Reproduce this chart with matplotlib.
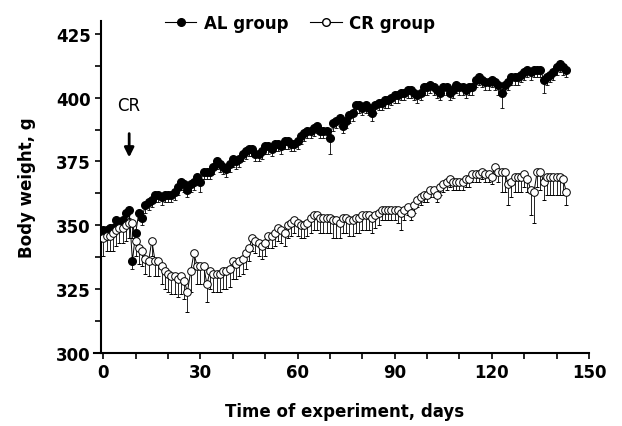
import matplotlib
matplotlib.use("Agg")
import matplotlib.pyplot as plt
from matplotlib.lines import Line2D
import numpy as np

days = list(range(0, 144))

al_weight = [
    348, 348, 349, 349, 352, 351, 352, 355, 356, 336, 347, 355, 353, 358, 359, 360, 362, 362, 361, 362,
    362, 362, 363, 365, 367, 366, 364, 366, 367, 369, 367, 371, 371, 371, 373, 375, 374, 373, 372, 374,
    376, 375, 376, 378, 379, 380, 380, 378, 378, 379, 381, 381, 380, 382, 382, 381, 383, 383, 382, 382,
    383, 385, 386, 387, 387, 388, 389, 387, 387, 387, 384, 390, 391, 392, 389, 391, 393, 394, 397, 397,
    396, 397, 396, 394, 397, 398, 398, 399, 399, 400, 401, 401, 402, 402, 403, 403, 402, 401, 402, 404,
    404, 405, 404, 403, 402, 404, 404, 402, 403, 405, 404, 404, 403, 404, 404, 407, 408, 407, 406, 406,
    407, 406, 405, 402, 405, 406, 408, 408, 408, 409, 410, 411, 410, 411, 411, 411, 407, 408, 409, 410,
    412, 413, 412, 411]

al_err = [
    3, 3, 3, 3, 3, 3, 3, 3, 3, 3, 3, 3, 3, 3, 3, 3, 3, 3, 3, 3,
    3, 3, 3, 3, 3, 3, 3, 3, 3, 3, 4, 3, 3, 3, 3, 3, 3, 3, 3, 3,
    3, 3, 3, 3, 3, 3, 3, 3, 3, 3, 3, 3, 3, 3, 3, 3, 3, 3, 3, 3,
    3, 3, 3, 3, 3, 3, 3, 3, 3, 3, 6, 3, 3, 3, 3, 3, 3, 3, 3, 3,
    3, 3, 3, 3, 3, 3, 3, 3, 3, 3, 3, 3, 3, 3, 3, 3, 3, 3, 3, 3,
    3, 3, 3, 3, 3, 3, 3, 3, 3, 3, 3, 3, 3, 3, 3, 3, 3, 3, 3, 3,
    3, 3, 4, 6, 3, 3, 3, 3, 3, 3, 3, 3, 3, 3, 3, 3, 5, 3, 3, 3,
    3, 3, 3, 3]

cr_weight = [
    345, 346, 346, 347, 348, 349, 349, 350, 351, 351, 344, 341, 340, 337, 336, 344, 336, 336, 334, 332,
    331, 330, 330, 329, 330, 328, 324, 332, 339, 334, 334, 334, 327, 332, 331, 331, 331, 332, 332, 333,
    336, 335, 336, 337, 339, 341, 345, 344, 343, 342, 343, 346, 346, 347, 349, 348, 347, 350, 351, 352,
    351, 350, 350, 351, 353, 354, 354, 353, 353, 353, 353, 352, 352, 351, 353, 353, 352, 352, 353, 353,
    354, 354, 354, 353, 354, 355, 356, 356, 356, 356, 356, 356, 355, 356, 357, 355, 358, 360, 361, 362,
    362, 364, 364, 362, 365, 366, 367, 368, 367, 367, 367, 367, 368, 368, 370, 370, 370, 371, 370, 370,
    369, 373, 371, 371, 371, 366, 367, 369, 369, 369, 370, 368, 364, 363, 371, 371, 367, 369, 369, 369,
    369, 369, 368, 363]

cr_err = [
    7, 6, 6, 7, 6, 6, 6, 6, 6, 6, 6, 6, 6, 6, 6, 6, 6, 6, 7, 7,
    7, 7, 7, 7, 7, 7, 8, 8, 6, 7, 7, 7, 7, 7, 7, 7, 7, 7, 7, 7,
    7, 6, 6, 6, 6, 5, 5, 5, 5, 5, 5, 5, 5, 5, 5, 5, 5, 5, 5, 5,
    5, 5, 5, 5, 6, 6, 6, 6, 6, 6, 6, 7, 7, 6, 6, 6, 6, 6, 6, 6,
    6, 6, 6, 6, 5, 5, 4, 4, 4, 4, 4, 5, 7, 4, 3, 3, 3, 3, 3, 3,
    3, 3, 3, 3, 3, 3, 3, 3, 3, 3, 3, 3, 3, 3, 3, 3, 3, 3, 3, 3,
    3, 3, 4, 8, 8, 8, 6, 6, 6, 6, 5, 5, 10, 12, 6, 7, 7, 7, 7, 7,
    7, 7, 6, 5]

x_ticks = [0, 30, 60, 90, 120, 150]
y_ticks = [300, 325, 350, 375, 400, 425]
series_labels = ["AL group", "CR group"]
x_label = "Time of experiment, days"
y_label = "Body weight, g"
cr_day = 8

plt.rcParams['font.family'] = ['DejaVu Sans']

fig = plt.figure(figsize=(6.22, 4.27), dpi=100)
ax = fig.add_axes([101/622, 1-354/427, (589-101)/622, (354-22)/427])

z = np.zeros(len(days))
ax.errorbar(days, al_weight, yerr=[al_err, z], fmt='-o', color='black',
            markersize=5.5, linewidth=0.7, elinewidth=0.6, capsize=1.5, capthick=0.6,
            markerfacecolor='black', markeredgecolor='black', zorder=3)
ax.errorbar(days, cr_weight, yerr=[cr_err, z], fmt='-o', color='black',
            markersize=5.5, linewidth=0.7, elinewidth=0.6, capsize=1.5, capthick=0.6,
            markerfacecolor='white', markeredgecolor='black', markeredgewidth=0.7,
            zorder=4)

ax.set_xlim(-0.7, 150)
ax.set_ylim(300, 430)
ax.set_xticks(x_ticks)
ax.set_xticks([10, 20, 40, 50, 70, 80, 100, 110, 130, 140], minor=True)
ax.set_yticks(y_ticks)
ax.set_yticks([312.5, 337.5, 362.5, 387.5, 412.5], minor=True)
ax.tick_params(axis='both', which='both', direction='out', length=4, width=1.2)
ax.tick_params(axis='both', which='major', labelsize=12)
for lab in ax.get_xticklabels() + ax.get_yticklabels():
    lab.set_fontweight('bold')

for s in ['top', 'right']:
    ax.spines[s].set_visible(False)
for s in ['left', 'bottom']:
    ax.spines[s].set_linewidth(1.5)
ax.spines['left'].set_bounds(300, 430)
ax.spines['bottom'].set_bounds(-2.8, 150)

ax.set_xlabel(x_label, fontsize=12, fontweight='bold', labelpad=15)
ax.set_ylabel(y_label, fontsize=12, fontweight='bold', labelpad=14)

ax.text(cr_day, 397, "CR", fontsize=12, ha='center', va='center')
ax.annotate("", xy=(cr_day, 375.5), xytext=(cr_day, 387),
            arrowprops=dict(arrowstyle='-|>', color='black', lw=2, mutation_scale=14))

handles = [
    Line2D([], [], color='black', marker='o', markersize=5.5, linewidth=0.8,
           markerfacecolor='black'),
    Line2D([], [], color='black', marker='o', markersize=5.5, linewidth=0.8,
           markerfacecolor='white'),
]
fig.legend(handles, series_labels, loc='upper left', bbox_to_anchor=(158/622, 1-8/427),
           ncol=2, frameon=False, prop=dict(size=12, weight='bold'),
           handlelength=1.9, columnspacing=1.3, handletextpad=0.45, borderaxespad=0)

fig.savefig("out.png", dpi=100)
